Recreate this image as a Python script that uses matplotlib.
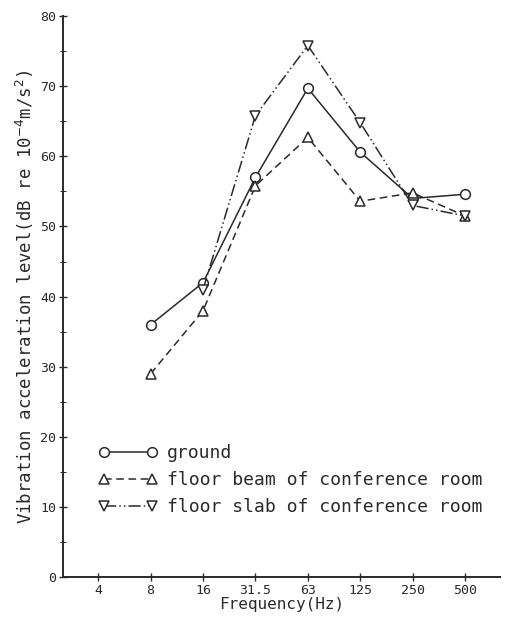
import matplotlib
matplotlib.use("Agg")
import matplotlib.pyplot as plt
from matplotlib.ticker import MultipleLocator

freq_labels = ["4", "8", "16", "31.5", "63", "125", "250", "500"]

ground_x = [1, 2, 3, 4, 5, 6, 7]
ground = [36, 42, 57, 69.7, 60.6, 54, 54.6]

beam_x = [1, 2, 3, 4, 5, 6, 7]
beam = [29, 38, 55.8, 62.7, 53.6, 54.8, 51.5]

slab_x = [2, 3, 4, 5, 6, 7]
slab = [41, 65.8, 75.8, 64.8, 53, 51.5]

plt.rcParams['font.family'] = ['DejaVu Sans Mono']
ink = '#2a2a2a'

fig = plt.figure(figsize=(5.13, 6.18), dpi=100)
ax = fig.add_axes([0.123, 0.066, 0.852, 0.908])

mk = dict(markersize=7, markerfacecolor='white', markeredgecolor=ink,
          markeredgewidth=1.1, color=ink, linewidth=1.1)
ax.plot(ground_x, ground, marker='o', linestyle='-',
        label='ground', **mk)
ax.plot(beam_x, beam, marker='^', linestyle=(0, (5, 3)),
        label='floor beam of conference room', **mk)
ax.plot(slab_x, slab, marker='v', linestyle=(0, (8, 2, 1, 2, 1, 2)),
        label='floor slab of conference room', **mk)

ax.set_xlim(-0.67, 7.67)
ax.set_ylim(0, 80)
ax.set_xticks(range(len(freq_labels)))
ax.set_xticklabels(freq_labels)
ax.yaxis.set_major_locator(MultipleLocator(10))
ax.yaxis.set_minor_locator(MultipleLocator(5))
ax.tick_params(axis='both', direction='inout', length=6, width=1,
               labelsize=9.5, colors=ink, pad=2)
ax.tick_params(axis='y', which='minor', direction='inout', length=4)

for s in ['top', 'right']:
    ax.spines[s].set_visible(False)
for s in ['left', 'bottom']:
    ax.spines[s].set_linewidth(1.4)
    ax.spines[s].set_color(ink)

ax.set_xlabel('Frequency(Hz)', fontsize=11.5, color=ink, labelpad=0)
ax.set_ylabel('Vibration acceleration level(dB re 10$^{-4}$m/s$^{2}$)',
              fontsize=12.5, color=ink, labelpad=3)

ax.legend(loc='upper left', bbox_to_anchor=(0.064, 0.25), frameon=False,
          fontsize=13, numpoints=2, handlelength=3.27, handletextpad=0.55,
          labelspacing=0.5, borderaxespad=0, labelcolor=ink)

fig.savefig('out.png', dpi=100)
